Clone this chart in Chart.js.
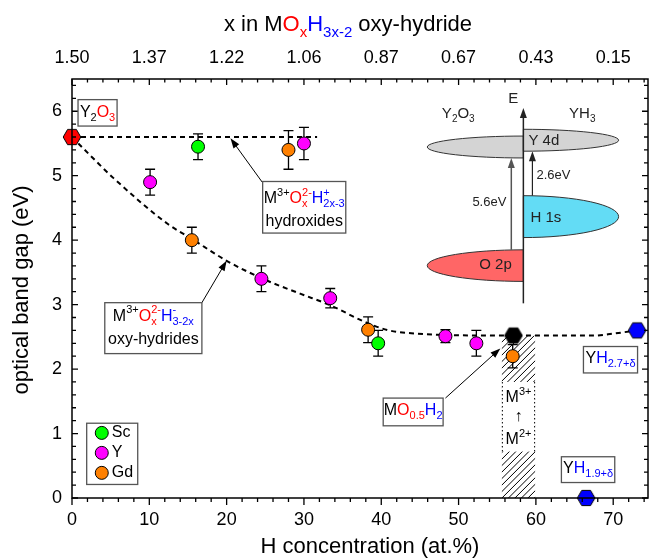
<!DOCTYPE html>
<html>
<head>
<meta charset="utf-8">
<script src="https://cdn.jsdelivr.net/npm/chart.js@4.4.1/dist/chart.umd.min.js"></script>
<style>
  html, body { margin: 0; padding: 0; background: #fff; }
</style>
</head>
<body>
<canvas id="gapChart" width="650" height="560"></canvas>
<script>
  // ── Measured points: H concentration (at.%), band gap (eV), error (eV) ──
  const scX   = [16.3, 39.6];
  const scY   = [5.45, 2.4];
  const scErr = [0.2, 0.2];

  const yX   = [10.1, 24.5, 30.0, 33.4, 48.3, 52.3];
  const yY   = [4.9, 3.4, 5.5, 3.1, 2.51, 2.4];
  const yErr = [0.2, 0.2, 0.25, 0.15, 0.1, 0.2];

  const gdX   = [15.5, 28.0, 38.3, 57.0];
  const gdY   = [4.0, 5.4, 2.61, 2.2];
  const gdErr = [0.2, 0.3, 0.2, 0.18];

  // reference compounds (hexagons)
  const y2o3X = [0];    const y2o3Y = [5.6];
  const mohX  = [57.1]; const mohY  = [2.52];
  const yhX   = [73.1, 66.5]; const yhY = [2.6, 0];

  // dashed guide lines
  const hydroxX = [0, 31.7];
  const hydroxY = [5.6, 5.6];
  const oxyX = [0, 1.4, 2.9, 5.3, 12.4, 15.5, 20, 24.7, 29.5, 33.4, 38.1, 41, 44.6, 48, 55, 62, 67.5, 70, 73.1];
  const oxyY = [5.6, 5.43, 5.25, 4.97, 4.25, 4.02, 3.68, 3.4, 3.17, 2.99, 2.72, 2.6, 2.55, 2.53, 2.52, 2.52, 2.52, 2.55, 2.6];

  // axes
  const xTicks    = [0, 10, 20, 30, 40, 50, 60, 70];
  const topLabels = ["1.50", "1.37", "1.22", "1.06", "0.87", "0.67", "0.43", "0.15"];
  const yTicks    = [0, 1, 2, 3, 4, 5, 6];

  const FONT = '"Liberation Sans", Arial, sans-serif';
  const F = (s) => s + "px " + FONT;
  const RED = "#ff0000", BLUE = "#0000ff";

  const pts = (xs, ys) => xs.map((x, i) => ({ x: x, y: ys[i] }));

  // hexagon marker (flat top, pointed sides)
  function hexImg(fill) {
    const c = document.createElement("canvas");
    c.width = c.height = 22;
    const g = c.getContext("2d");
    g.beginPath();
    for (let i = 0; i < 6; i++) {
      const a = Math.PI / 3 * i;
      g.lineTo(11 + 8.8 * Math.cos(a), 11 + 8.8 * Math.sin(a));
    }
    g.closePath();
    g.fillStyle = fill; g.fill();
    g.lineWidth = 1; g.strokeStyle = "#000"; g.stroke();
    return c;
  }

  // text with sub/superscripts: parts = [{t, c, sup, sub}]
  function rich(ctx, parts, x, y, size, align) {
    const small = Math.round(size * 0.68);
    const widths = parts.map(p => {
      let w = 0, s = 0;
      if (p.t) { ctx.font = F(size); w = ctx.measureText(p.t).width; }
      ctx.font = F(small);
      if (p.sub) s = Math.max(s, ctx.measureText(p.sub).width);
      if (p.sup) s = Math.max(s, ctx.measureText(p.sup).width);
      return w + s;
    });
    const total = widths.reduce((a, b) => a + b, 0);
    let cx = align === "center" ? x - total / 2 : align === "right" ? x - total : x;
    ctx.textAlign = "left"; ctx.textBaseline = "middle";
    parts.forEach((p, i) => {
      ctx.fillStyle = p.c || "#000";
      let px = cx;
      if (p.t) { ctx.font = F(size); ctx.fillText(p.t, px, y); px += ctx.measureText(p.t).width; }
      ctx.font = F(small);
      if (p.sup) ctx.fillText(p.sup, px, y - size * 0.36);
      if (p.sub) ctx.fillText(p.sub, px, y + size * 0.34);
      cx += widths[i];
    });
  }

  function arrow(ctx, x1, y1, x2, y2, color, lw) {
    const a = Math.atan2(y2 - y1, x2 - x1), head = 10, hw = 3.5;
    ctx.strokeStyle = color; ctx.fillStyle = color; ctx.lineWidth = lw;
    ctx.beginPath(); ctx.moveTo(x1, y1);
    ctx.lineTo(x2 - head * 0.8 * Math.cos(a), y2 - head * 0.8 * Math.sin(a)); ctx.stroke();
    ctx.beginPath(); ctx.moveTo(x2, y2);
    ctx.lineTo(x2 - head * Math.cos(a) + hw * Math.sin(a), y2 - head * Math.sin(a) - hw * Math.cos(a));
    ctx.lineTo(x2 - head * Math.cos(a) - hw * Math.sin(a), y2 - head * Math.sin(a) + hw * Math.cos(a));
    ctx.closePath(); ctx.fill();
  }

  // ── Decorations: error bars, hatch, frame, ticks, labels, inset ──
  const decor = {
    id: "decor",
    beforeDatasetsDraw(chart) {
      const ctx = chart.ctx, X = v => chart.scales.x.getPixelForValue(v), Y = v => chart.scales.y.getPixelForValue(v);
      ctx.save();
      // hatched M2+ -> M3+ strip
      const hx1 = X(55.6), hx2 = X(59.9), hy1 = Y(2.52), hy2 = Y(0);
      ctx.save();
      ctx.beginPath(); ctx.rect(hx1, hy1, hx2 - hx1, hy2 - hy1); ctx.clip();
      ctx.strokeStyle = "#000"; ctx.lineWidth = 1;
      for (let k = -(hy2 - hy1); k < hx2 - hx1 + 10; k += 6.5) {
        ctx.beginPath(); ctx.moveTo(hx1 + k, hy2); ctx.lineTo(hx1 + k + (hy2 - hy1), hy1); ctx.stroke();
      }
      ctx.restore();
      const by1 = Y(1.80), by2 = Y(0.72);
      ctx.fillStyle = "#fff"; ctx.fillRect(hx1, by1, hx2 - hx1, by2 - by1);
      ctx.setLineDash([1.5, 2.5]); ctx.strokeStyle = "#000"; ctx.lineWidth = 1;
      ctx.beginPath(); ctx.moveTo(hx1 + 0.5, by1); ctx.lineTo(hx1 + 0.5, by2);
      ctx.moveTo(hx2 - 0.5, by1); ctx.lineTo(hx2 - 0.5, by2); ctx.stroke();
      ctx.setLineDash([]);
      const mx = (hx1 + hx2) / 2;
      rich(ctx, [{ t: "M", sup: "3+" }], mx, Y(1.55), 16, "center");
      rich(ctx, [{ t: "\u2191" }], mx, Y(1.26), 16, "center");
      rich(ctx, [{ t: "M", sup: "2+" }], mx, Y(0.9), 16, "center");

      // error bars
      ctx.strokeStyle = "#000"; ctx.lineWidth = 1.3;
      [[scX, scY, scErr], [yX, yY, yErr], [gdX, gdY, gdErr]].forEach(([xs, ys, es]) => {
        xs.forEach((x, i) => {
          const px = X(x), t = Y(ys[i] + es[i]), b = Y(ys[i] - es[i]);
          ctx.beginPath();
          ctx.moveTo(px, t); ctx.lineTo(px, b);
          ctx.moveTo(px - 5, t); ctx.lineTo(px + 5, t);
          ctx.moveTo(px - 5, b); ctx.lineTo(px + 5, b);
          ctx.stroke();
        });
      });
      ctx.restore();
    },
    afterDraw(chart) {
      const ctx = chart.ctx, a = chart.chartArea;
      const X = v => chart.scales.x.getPixelForValue(v), Y = v => chart.scales.y.getPixelForValue(v);
      ctx.save();

      // frame + ticks
      ctx.strokeStyle = "#000"; ctx.lineWidth = 1.5;
      ctx.strokeRect(a.left, a.top, a.right - a.left, a.bottom - a.top);
      ctx.lineWidth = 1.3;
      ctx.beginPath();
      for (let v = 0; v <= 74; v += 2) {
        const px = X(v), major = v % 10 === 0;
        ctx.moveTo(px, a.bottom); ctx.lineTo(px, a.bottom + (major ? 7 : 4));
        ctx.moveTo(px, a.top); ctx.lineTo(px, a.top + (major ? 6 : 3.5));
      }
      for (let k = 0; k <= 32; k++) {
        const py = Y(k * 0.2), major = k % 5 === 0;
        ctx.moveTo(a.left, py); ctx.lineTo(a.left + (major ? 6 : 4), py);
        ctx.moveTo(a.right, py); ctx.lineTo(a.right - (major ? 6 : 4), py);
      }
      ctx.stroke();

      // axis titles
      rich(ctx, [{ t: "x in M" }, { t: "O", sub: "x", c: RED }, { t: "H", sub: "3x-2", c: BLUE }, { t: " oxy-hydride" }], 348, 25, 22, "center");
      rich(ctx, [{ t: "H concentration (at.%)" }], 370, 547, 22, "center");
      ctx.save();
      ctx.translate(22, 290); ctx.rotate(-Math.PI / 2);
      rich(ctx, [{ t: "optical band gap (eV)" }], 0, 0, 22, "center");
      ctx.restore();

      // annotation boxes
      const box = (x1, y1, x2, y2) => {
        const l = X(x1), t = Y(y1), r = X(x2), b = Y(y2);
        ctx.fillStyle = "#fff"; ctx.fillRect(l, t, r - l, b - t);
        ctx.strokeStyle = "#555"; ctx.lineWidth = 1.3; ctx.strokeRect(l, t, r - l, b - t);
        return (l + r) / 2;
      };
      let c;
      c = box(0.78, 6.18, 5.83, 5.77);
      rich(ctx, [{ t: "Y", sub: "2" }, { t: "O", sub: "3", c: RED }], c, Y(5.98), 16, "center");

      arrow(ctx, X(24.6), Y(4.9), X(20.5), Y(5.58), "#000", 1);
      c = box(24.66, 4.91, 35.41, 4.11);
      rich(ctx, [{ t: "M", sup: "3+" }, { t: "O", sup: "2-", sub: "x", c: RED }, { t: "H", sup: "+", sub: "2x-3", c: BLUE }], c, Y(4.64), 16, "center");
      rich(ctx, [{ t: "hydroxides" }], c, Y(4.29), 16, "center");

      arrow(ctx, X(16.8), Y(3.03), X(20.0), Y(3.68), "#000", 1);
      c = box(4.24, 3.03, 16.8, 2.24);
      rich(ctx, [{ t: "M", sup: "3+" }, { t: "O", sup: "2-", sub: "x", c: RED }, { t: "H", sup: "-", sub: "3-2x", c: BLUE }], c, Y(2.82), 16, "center");
      rich(ctx, [{ t: "oxy-hydrides" }], c, Y(2.45), 16, "center");

      arrow(ctx, X(48.3), Y(1.55), X(55.4), Y(2.32), "#000", 1);
      c = box(40.25, 1.55, 48.0, 1.12);
      rich(ctx, [{ t: "M" }, { t: "O", sub: "0.5", c: RED }, { t: "H", sub: "2", c: BLUE }], c, Y(1.35), 16, "center");

      c = box(66.15, 2.35, 73.15, 1.94);
      rich(ctx, [{ t: "Y" }, { t: "H", sub: "2.7+\u03b4", c: BLUE }], c, Y(2.17), 16, "center");
      c = box(63.3, 0.64, 70.2, 0.24);
      rich(ctx, [{ t: "Y" }, { t: "H", sub: "1.9+\u03b4", c: BLUE }], c, Y(0.46), 16, "center");

      // legend
      box(1.9, 1.16, 8.5, 0.21);
      [["Sc", "#00ff00", 1.01], ["Y", "#ff00ff", 0.70], ["Gd", "#ff8000", 0.39]].forEach(([name, col, yy]) => {
        ctx.beginPath(); ctx.arc(X(3.85), Y(yy), 6.5, 0, Math.PI * 2);
        ctx.fillStyle = col; ctx.fill(); ctx.strokeStyle = "#000"; ctx.lineWidth = 1; ctx.stroke();
        rich(ctx, [{ t: name }], X(5.14), Y(yy), 16, "left");
      });

      // inset: band scheme
      const ax = X(58.38);
      const half = (cy, xEnd, ry, fill, left) => {
        ctx.beginPath();
        ctx.ellipse(ax, Y(cy), Math.abs(X(xEnd) - ax), Math.abs(Y(0) - Y(ry)), 0, left ? Math.PI / 2 : -Math.PI / 2, left ? Math.PI * 1.5 : Math.PI / 2);
        ctx.closePath();
        ctx.fillStyle = fill; ctx.fill();
        ctx.strokeStyle = "#333"; ctx.lineWidth = 1; ctx.stroke();
      };
      half(5.445, 45.95, 0.17, "#d4d4d4", true);
      half(5.55, 70.7, 0.17, "#d4d4d4", false);
      half(4.365, 70.7, 0.325, "#63dcf5", false);
      half(3.605, 45.95, 0.245, "#ff6666", true);
      arrow(ctx, ax, Y(3.02), ax, Y(6.05), "#222", 1.5);
      arrow(ctx, X(56.82), Y(3.85), X(56.82), Y(5.275), "#555", 1.5);
      arrow(ctx, X(59.55), Y(4.69), X(59.55), Y(5.38), "#222", 1.2);
      const G = "#222";
      rich(ctx, [{ t: "E", c: G }], X(57.08), Y(6.19), 15, "center");
      rich(ctx, [{ t: "Y", sub: "2", c: G }, { t: "O", sub: "3", c: G }], X(49.96), Y(5.96), 15, "center");
      rich(ctx, [{ t: "YH", sub: "3", c: G }], X(66.0), Y(5.96), 15, "center");
      rich(ctx, [{ t: "Y 4d", c: G }], X(59.03), Y(5.54), 15, "left");
      rich(ctx, [{ t: "H 1s", c: G }], X(61.3), Y(4.35), 15, "center");
      rich(ctx, [{ t: "O 2p", c: G }], X(54.78), Y(3.61), 15, "center");
      rich(ctx, [{ t: "5.6eV", c: G }], X(56.18), Y(4.58), 13, "right");
      rich(ctx, [{ t: "2.6eV", c: G }], X(60.07), Y(5.0), 13, "left");

      ctx.restore();
    }
  };

  const circle = (label, xs, ys, col) => ({
    label: label, data: pts(xs, ys), order: 1, clip: false,
    pointRadius: 6.5, pointHoverRadius: 6.5, pointBackgroundColor: col,
    pointBorderColor: "#000", pointBorderWidth: 1, showLine: false
  });
  const hex = (label, xs, ys, col) => ({
    label: label, data: pts(xs, ys), order: 0, clip: false,
    pointStyle: hexImg(col), pointRadius: 9, showLine: false
  });
  const dashed = (label, xs, ys) => ({
    label: label, data: pts(xs, ys), order: 5, clip: false,
    showLine: true, pointRadius: 0, borderColor: "#000", borderWidth: 2,
    borderDash: [5, 4], cubicInterpolationMode: "monotone", fill: false
  });

  const tickFont = { family: FONT, size: 18 };

  new Chart(document.getElementById("gapChart"), {
    type: "scatter",
    data: {
      datasets: [
        dashed("hydroxides", hydroxX, hydroxY),
        dashed("oxy-hydrides", oxyX, oxyY),
        circle("Sc", scX, scY, "#00ff00"),
        circle("Y", yX, yY, "#ff00ff"),
        circle("Gd", gdX, gdY, "#ff8000"),
        hex("Y2O3", y2o3X, y2o3Y, RED),
        hex("MO0.5H2", mohX, mohY, "#000"),
        hex("YH", yhX, yhY, BLUE)
      ]
    },
    options: {
      responsive: false,
      animation: false,
      layout: { autoPadding: false, padding: { left: 0, right: 2, top: 0, bottom: 0 } },
      plugins: { legend: { display: false }, tooltip: { enabled: false } },
      scales: {
        x: {
          type: "linear", position: "bottom", min: 0, max: 74.5,
          grid: { display: false, drawTicks: false }, border: { display: false },
          afterBuildTicks: s => { s.ticks = xTicks.map(v => ({ value: v })); },
          afterFit: s => { s.height = 62; },
          ticks: { font: tickFont, color: "#000", padding: 11, maxRotation: 0, autoSkip: false }
        },
        x2: {
          type: "linear", position: "top", min: 0, max: 74.5,
          grid: { display: false, drawTicks: false }, border: { display: false },
          afterBuildTicks: s => { s.ticks = xTicks.map(v => ({ value: v })); },
          afterFit: s => { s.height = 79; },
          ticks: {
            font: tickFont, color: "#000", padding: 10, maxRotation: 0, autoSkip: false,
            callback: (v) => topLabels[xTicks.indexOf(v)]
          }
        },
        y: {
          type: "linear", position: "left", min: 0, max: 6.5,
          grid: { display: false, drawTicks: false }, border: { display: false },
          afterBuildTicks: s => { s.ticks = yTicks.map(v => ({ value: v })); },
          afterFit: s => { s.width = 72; },
          ticks: { font: tickFont, color: "#000", padding: 10 }
        }
      }
    },
    plugins: [decor]
  });
</script>
</body>
</html>
